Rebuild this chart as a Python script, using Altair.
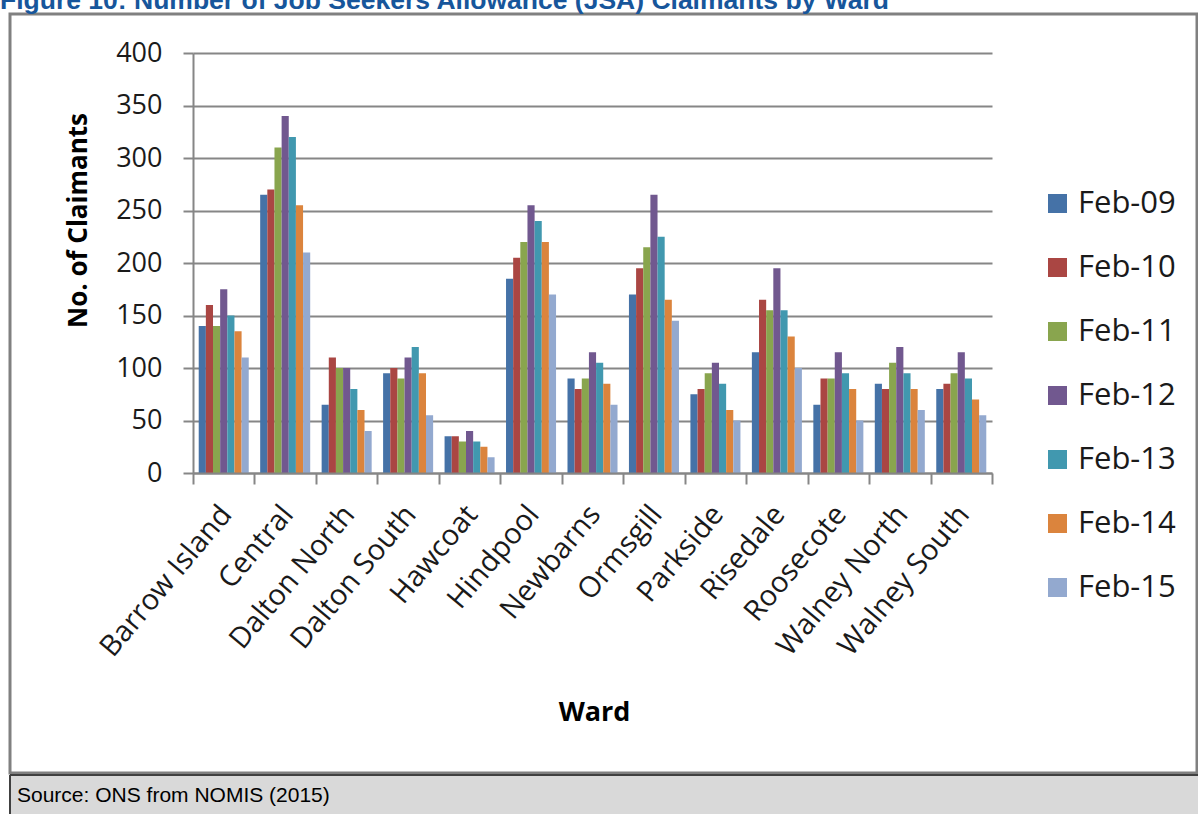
import altair as alt
import pandas as pd

wards = ["Barrow Island", "Central", "Dalton North", "Dalton South", "Hawcoat",
         "Hindpool", "Newbarns", "Ormsgill", "Parkside", "Risedale",
         "Roosecote", "Walney North", "Walney South"]
series = ["Feb-09", "Feb-10", "Feb-11", "Feb-12", "Feb-13", "Feb-14", "Feb-15"]

feb09 = [140, 265, 65, 95, 35, 185, 90, 170, 75, 115, 65, 85, 80]
feb10 = [160, 270, 110, 100, 35, 205, 80, 195, 80, 165, 90, 80, 85]
feb11 = [140, 310, 100, 90, 30, 220, 90, 215, 95, 155, 90, 105, 95]
feb12 = [175, 340, 100, 110, 40, 255, 115, 265, 105, 195, 115, 120, 115]
feb13 = [150, 320, 80, 120, 30, 240, 105, 225, 85, 155, 95, 95, 90]
feb14 = [135, 255, 60, 95, 25, 220, 85, 165, 60, 130, 80, 80, 70]
feb15 = [110, 210, 40, 55, 15, 170, 65, 145, 50, 100, 50, 60, 55]

y_ticks = [0, 50, 100, 150, 200, 250, 300, 350, 400]
colors = ["#4572A7", "#AA4643", "#89A54E", "#71588F", "#4198AF", "#DB843D", "#93A9CF"]

title_text = "Figure 10: Number of Job Seekers Allowance (JSA) Claimants by Ward"
source_text = "Source: ONS from NOMIS (2015)"

all_series = [feb09, feb10, feb11, feb12, feb13, feb14, feb15]
rows = []
for s, vals in zip(series, all_series):
    for w, v in zip(wards, vals):
        rows.append({"Ward": w, "Series": s, "Claimants": v})
df = pd.DataFrame(rows)

one = pd.DataFrame({"k": [0]})

# plot area origin is at (193, 53) in page pixels
frame = alt.Chart(one).mark_rect(fillOpacity=0, stroke="#808080", strokeWidth=3).encode(
    x=alt.value(10 - 193), x2=alt.value(1197 - 193),
    y=alt.value(14 - 53), y2=alt.value(773 - 53))

footer = alt.Chart(one).mark_rect(fill="#D9D9D9").encode(
    x=alt.value(10 - 193), x2=alt.value(1200 - 193),
    y=alt.value(775 - 53), y2=alt.value(816 - 53))

footer_top = alt.Chart(one).mark_rule(color="#404040", strokeWidth=2).encode(
    x=alt.value(10 - 193), x2=alt.value(1200 - 193), y=alt.value(775 - 53))

footer_left = alt.Chart(one).mark_rule(color="#404040", strokeWidth=2).encode(
    x=alt.value(10 - 193), y=alt.value(775 - 53), y2=alt.value(816 - 53))

bars = alt.Chart(df).mark_bar().encode(
    x=alt.X("Ward:N", sort=wards,
            scale=alt.Scale(paddingInner=0, paddingOuter=0),
            axis=alt.Axis(title="Ward", grid=False, tickBand="extent",
                          labelAngle=-50, labelAlign="right", labelBaseline="middle",
                          labelPadding=25, labelOffset=2, labelLimit=400, labelOverlap=False,
                          labelFontSize=29, labelFont="Open Sans", labelColor="#1a1a1a",
                          tickSize=11, tickWidth=2, tickColor="#868686",
                          domainColor="#868686", domainWidth=2,
                          titleFont="Open Sans", titleFontSize=27, titleFontWeight="bold",
                          titleColor="#000000", titleX=401, titleY=239,
                          titleBaseline="middle", titleAlign="center", zindex=1)),
    xOffset=alt.XOffset("Series:N", sort=series,
                        scale=alt.Scale(paddingInner=0, paddingOuter=0.8)),
    y=alt.Y("Claimants:Q", scale=alt.Scale(domain=[0, 400], nice=False),
            axis=alt.Axis(title="No. of Claimants", values=y_ticks, grid=True,
                          gridColor="#868686", gridWidth=2,
                          tickSize=10, tickWidth=2, tickColor="#868686",
                          domainColor="#868686", domainWidth=2,
                          labelPadding=21, labelFontSize=27, labelFont="Open Sans",
                          labelColor="#1a1a1a",
                          titleFont="Open Sans", titleFontSize=26, titleFontWeight="bold",
                          titleColor="#000000", titleX=-115, titleY=167,
                          titleAngle=-90, titleBaseline="middle", titleAlign="center")),
    color=alt.Color("Series:N", sort=series,
                    scale=alt.Scale(domain=series, range=colors),
                    legend=alt.Legend(title=None, orient="none", legendX=849, legendY=135,
                                      labelFontSize=31, labelFont="Open Sans",
                                      labelColor="#1a1a1a", symbolType="square",
                                      symbolSize=361, symbolStrokeWidth=0,
                                      rowPadding=32, labelOffset=5, padding=0)),
)

title = alt.Chart(one).mark_text(align="left", baseline="alphabetic",
                                 font="Liberation Sans", fontWeight="bold",
                                 fontSize=26.5, color="#17569B").encode(
    x=alt.value(0 - 193), y=alt.value(9 - 53), text=alt.value(title_text))

source = alt.Chart(one).mark_text(align="left", baseline="alphabetic",
                                  font="Liberation Sans", fontSize=21,
                                  color="#000000").encode(
    x=alt.value(17 - 193), y=alt.value(802 - 53), text=alt.value(source_text))

chart = alt.layer(frame, footer, footer_top, footer_left, bars, title, source).properties(
    width=799, height=420,
    autosize=alt.AutoSizeParams(type="none"),
    padding={"left": 193, "top": 53, "right": 206, "bottom": 341},
    background="white",
).configure_view(stroke=None)

chart.save("out.html", embed_options={"renderer": "svg", "actions": False})
